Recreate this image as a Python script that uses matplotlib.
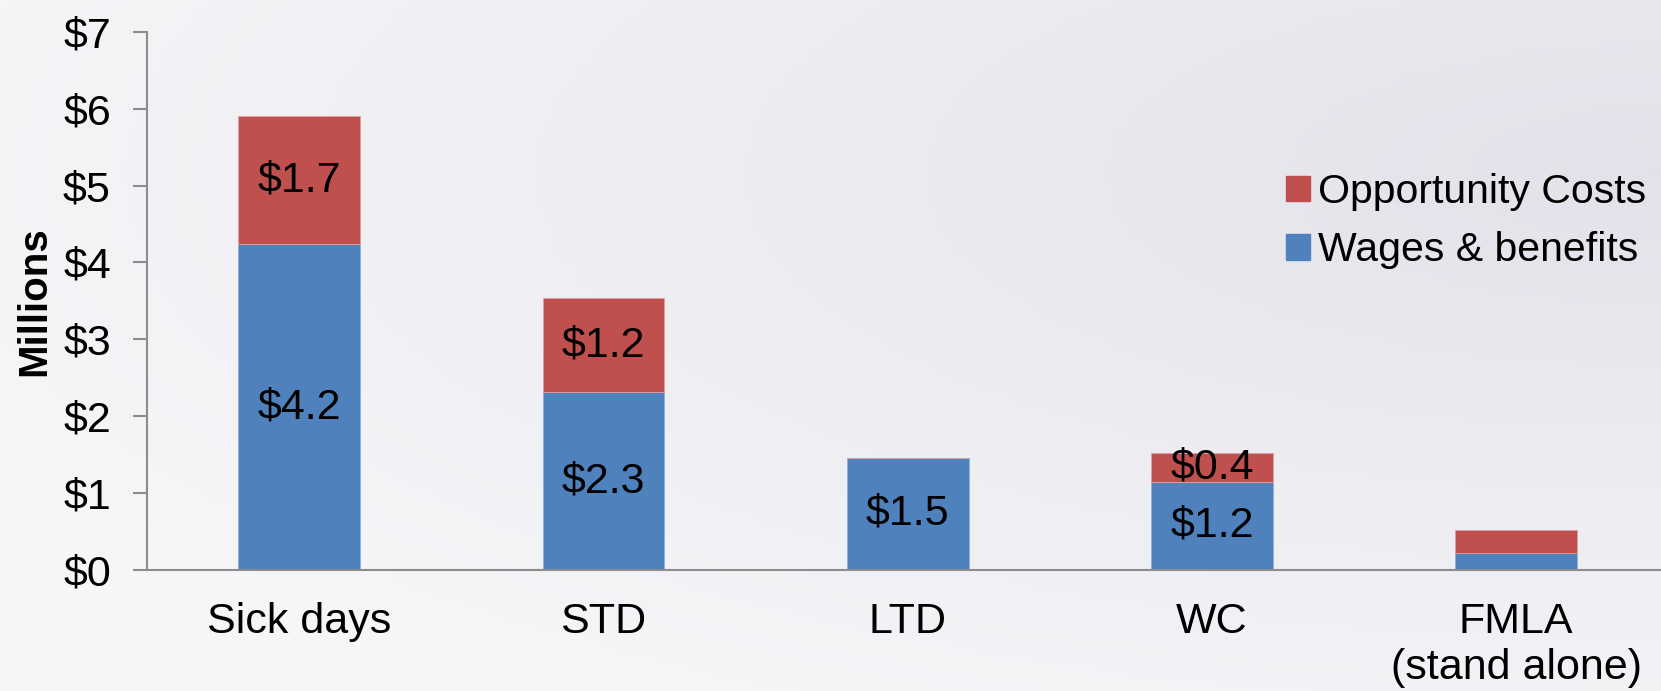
import numpy as np
import matplotlib
matplotlib.use("Agg")
import matplotlib.pyplot as plt
from matplotlib.patches import Patch

categories = ["Sick days", "STD", "LTD", "WC", "FMLA\n(stand alone)"]
wages = [4.24, 2.31, 1.46, 1.15, 0.22]
opportunity = [1.66, 1.23, 0.0, 0.37, 0.30]
wage_labels = ["$4.2", "$2.3", "$1.5", "$1.2", ""]
opp_labels = ["$1.7", "$1.2", "", "$0.4", ""]
yticks = [0, 1, 2, 3, 4, 5, 6, 7]

blue = "#4F81BD"
red = "#C0504D"
fs = 31
plt.rcParams['font.family'] = ['Liberation Sans', 'DejaVu Sans']

fig = plt.figure(figsize=(16.61, 6.91), dpi=100)

# soft background gradient
bg = fig.add_axes([0, 0, 1, 1], zorder=-10)
xx, yy = np.meshgrid(np.linspace(0, 1, 300), np.linspace(0, 1, 150))
d = np.sqrt(((xx - 1.0) * 1.0) ** 2 + ((yy - 0.75) * 1.2) ** 2)
shade = np.clip(d / 1.1, 0, 1)
c_dark = np.array([0.890, 0.886, 0.918])
c_light = np.array([0.965, 0.965, 0.975])
img = c_dark[None, None, :] * (1 - shade[..., None]) + c_light[None, None, :] * shade[..., None]
bg.imshow(img, origin="lower", extent=[0, 1, 0, 1], aspect="auto")
bg.axis("off")

ax = fig.add_axes([0.0885, 0.175, 0.9115, 0.779])
ax.patch.set_alpha(0)
x = np.arange(len(categories))
w = 0.4
ax.bar(x, wages, w, color=blue, edgecolor="#8fb0d8", linewidth=0.6, label="Wages & benefits")
ax.bar(x, opportunity, w, bottom=wages, color=red, edgecolor="#e0a09e", linewidth=0.6,
       label="Opportunity Costs")

for i in range(len(categories)):
    if wage_labels[i]:
        ax.text(x[i], wages[i] / 2, wage_labels[i], ha="center", va="center", fontsize=fs)
    if opp_labels[i]:
        ax.text(x[i], wages[i] + opportunity[i] / 2, opp_labels[i], ha="center", va="center",
                fontsize=fs)

ax.set_xlim(-0.5, 4.476)
ax.set_ylim(0, 7)
ax.set_yticks(yticks)
ax.set_yticklabels(["$%d" % v for v in yticks], fontsize=fs)
ax.set_xticks(x)
ax.set_xticklabels(categories, fontsize=fs, linespacing=1.2)
ax.tick_params(axis="x", length=0, pad=23)
ax.tick_params(axis="y", length=10, width=1.5, color="#8c8c8c", pad=16)
for s in ["top", "right"]:
    ax.spines[s].set_visible(False)
ax.spines["left"].set_color("#8c8c8c")
ax.spines["bottom"].set_color("#8c8c8c")
ax.spines["left"].set_linewidth(1.5)
ax.spines["bottom"].set_linewidth(1.5)

ax.set_ylabel("Millions", fontsize=29, fontweight="bold")
ax.yaxis.set_label_coords(-0.062, 0.5)

handles = [Patch(color=red), Patch(color=blue)]
ax.legend(handles, ["Opportunity Costs", "Wages & benefits"], loc="upper left",
          bbox_to_anchor=(1286 / 1661, 1 - 173 / 691), bbox_transform=fig.transFigure,
          frameon=False, fontsize=29.5, handlelength=0.58, handleheight=0.58,
          handletextpad=0.2, labelspacing=0.5, borderaxespad=0, borderpad=0)

fig.savefig("out.png", dpi=100)
